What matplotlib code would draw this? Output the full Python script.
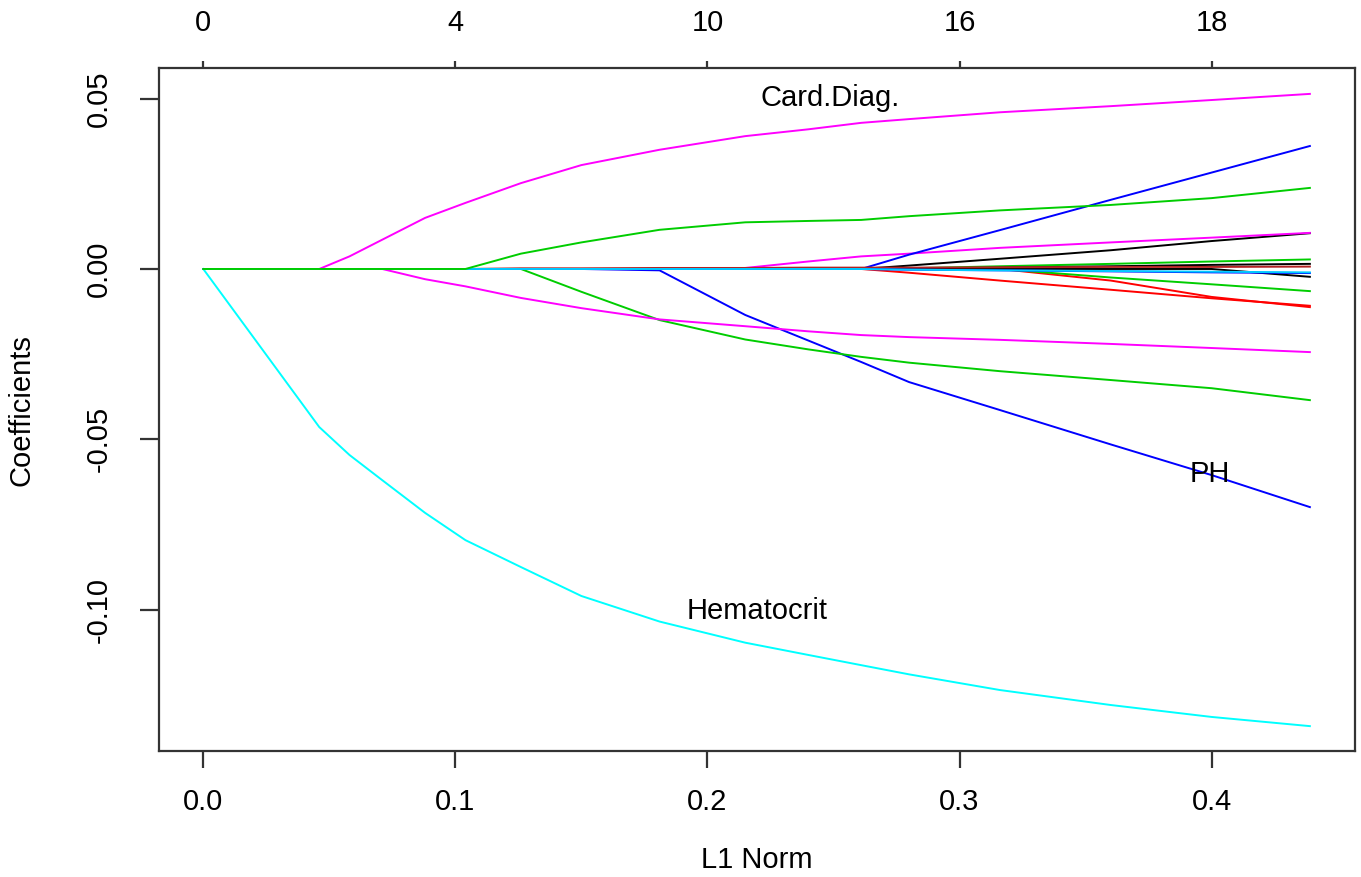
import numpy as np
import matplotlib.pyplot as plt

plt.rcParams['font.family'] = ['Liberation Sans', 'DejaVu Sans']

# L1 norm at each step of the path
l1_norm = [0.0, 0.046, 0.058, 0.071, 0.088, 0.104, 0.126, 0.150, 0.181, 0.215,
           0.240, 0.261, 0.280, 0.316, 0.360, 0.400, 0.439]

# coefficient paths (one list per variable)
black_up = [0, 0, 0, 0, 0, 0, 0, 0, 0, 0, 0, 0, 0.0010, 0.0030, 0.0055, 0.0082, 0.0105]
red_low1 = [0, 0, 0, 0, 0, 0, 0, 0, 0, 0, 0, 0, -0.0011, -0.0034, -0.0061, -0.0086, -0.0108]
green_pos = [0, 0, 0, 0, 0, 0, 0, 0, 0, 0, 0, 0, 0.0002, 0.0008, 0.0015, 0.0022, 0.0028]
ph = [0, 0, 0, 0, 0, 0, 0, 0, -0.0004, -0.0135, -0.0210, -0.0273, -0.0332, -0.0414, -0.0515, -0.0605, -0.0699]
magenta_pos = [0, 0, 0, 0, 0, 0, 0, 0, 0, 0.0003, 0.0022, 0.0037, 0.0045, 0.0062, 0.0078, 0.0092, 0.0106]
black_pos = [0, 0, 0, 0, 0, 0, 0, 0, 0, 0, 0, 0, 0.0001, 0.0004, 0.0008, 0.0012, 0.0015]
red_low2 = [0, 0, 0, 0, 0, 0, 0, 0, 0, 0, 0, 0, 0, 0, -0.0034, -0.0082, -0.0112]
green_neg = [0, 0, 0, 0, 0, 0, 0, 0, 0, 0, 0, 0, 0, 0, -0.0025, -0.0045, -0.0065]
blue_up = [0, 0, 0, 0, 0, 0, 0, 0, 0, 0, 0, 0, 0.0042, 0.0114, 0.0203, 0.0283, 0.0361]
hematocrit = [0, -0.0464, -0.0546, -0.0620, -0.0716, -0.0796, -0.0875, -0.0960, -0.1035, -0.1097,
              -0.1133, -0.1163, -0.1190, -0.1236, -0.1280, -0.1315, -0.1342]
card_diag = [0, 0, 0.0037, 0.0086, 0.0150, 0.0194, 0.0252, 0.0305, 0.0350, 0.0390,
             0.0410, 0.0429, 0.0440, 0.0460, 0.0478, 0.0496, 0.0514]
black_neg = [0, 0, 0, 0, 0, 0, 0, 0, 0, 0, 0, 0, 0, 0, 0, 0, -0.0023]
red_near = [0, 0, 0, 0, 0, 0, 0.0002, 0.0002, 0.0003, 0.0003, 0.0004, 0.0004, 0.0004, 0.0005, 0.0006, 0.0006, 0.0007]
green_low = [0, 0, 0, 0, 0, 0, 0, -0.0067, -0.0150, -0.0207, -0.0236, -0.0258, -0.0275, -0.0300, -0.0326, -0.0350, -0.0385]
blue_neg = [0, 0, 0, 0, 0, 0, 0, 0, 0, 0, 0, 0, -0.0002, -0.0004, -0.0007, -0.0010, -0.0012]
magenta_low = [0, 0, 0, 0, -0.0030, -0.0051, -0.0085, -0.0115, -0.0148, -0.0168,
               -0.0183, -0.0194, -0.0200, -0.0208, -0.0220, -0.0232, -0.0244]
cyan_neg = [0, 0, 0, 0, 0, 0, 0, 0, 0, 0, 0, 0, -0.0002, -0.0004, -0.0006, -0.0008, -0.0010]
green_up = [0, 0, 0, 0, 0, 0, 0.0045, 0.0078, 0.0115, 0.0137, 0.0141, 0.0144, 0.0155, 0.0172, 0.0188, 0.0208, 0.0238]

paths = [
    (black_up, 'black'), (red_low1, '#FF0000'), (green_pos, '#00CD00'),
    (ph, '#0000FF'), (magenta_pos, '#FF00FF'), (black_pos, 'black'),
    (red_low2, '#FF0000'), (green_neg, '#00CD00'), (blue_up, '#0000FF'),
    (hematocrit, '#00FFFF'), (card_diag, '#FF00FF'), (black_neg, 'black'),
    (red_near, '#B22222'), (green_low, '#00CD00'), (blue_neg, '#0000FF'),
    (magenta_low, '#FF00FF'), (cyan_neg, '#00CCFF'), (green_up, '#00CD00'),
]

top_ticks = [0.0, 0.1, 0.2, 0.3, 0.4]
top_labels = ['0', '4', '10', '16', '18']

fig = plt.figure(figsize=(13.61, 8.77), dpi=100)
ax = fig.add_axes([159 / 1361, 1 - 751 / 877, 1196 / 1361, 683 / 877])

for coefs, col in paths:
    ax.plot(l1_norm, coefs, color=col, lw=1.4)

ax.set_xlim(-0.01757, 0.4569)
ax.set_ylim(-0.1415, 0.0590)

ax.set_xticks([0.0, 0.1, 0.2, 0.3, 0.4])
ax.set_xticklabels(['0.0', '0.1', '0.2', '0.3', '0.4'])
ax.set_yticks([-0.10, -0.05, 0.0, 0.05])
ax.set_yticklabels(['-0.10', '-0.05', '0.00', '0.05'], rotation=90, va='center')

for s in ax.spines.values():
    s.set_color('#333333')
    s.set_linewidth(1.6)
ax.tick_params(axis='x', length=12, width=1.6, color='#333333', pad=15, labelsize=21)
ax.tick_params(axis='y', length=14, width=1.6, color='#333333', pad=19, labelsize=21)

top = ax.secondary_xaxis('top')
top.set_xticks(top_ticks)
top.set_xticklabels(top_labels)
top.spines['top'].set_visible(False)
top.tick_params(length=5, width=1.6, color='#333333', pad=17, labelsize=21)

ax.text(0.2488, 0.0479, 'Card.Diag.', fontsize=21, ha='center', va='baseline')
ax.text(0.3992, -0.0625, 'PH', fontsize=21, ha='center', va='baseline')
ax.text(0.2198, -0.1028, 'Hematocrit', fontsize=21, ha='center', va='baseline')

fig.text(22 / 1361, 1 - 410 / 877, 'Coefficients', rotation=90, fontsize=21, ha='center', va='center')
fig.text(757 / 1361, 1 - 860 / 877, 'L1 Norm', fontsize=21, ha='center', va='center')

fig.savefig('out.png', dpi=100)
